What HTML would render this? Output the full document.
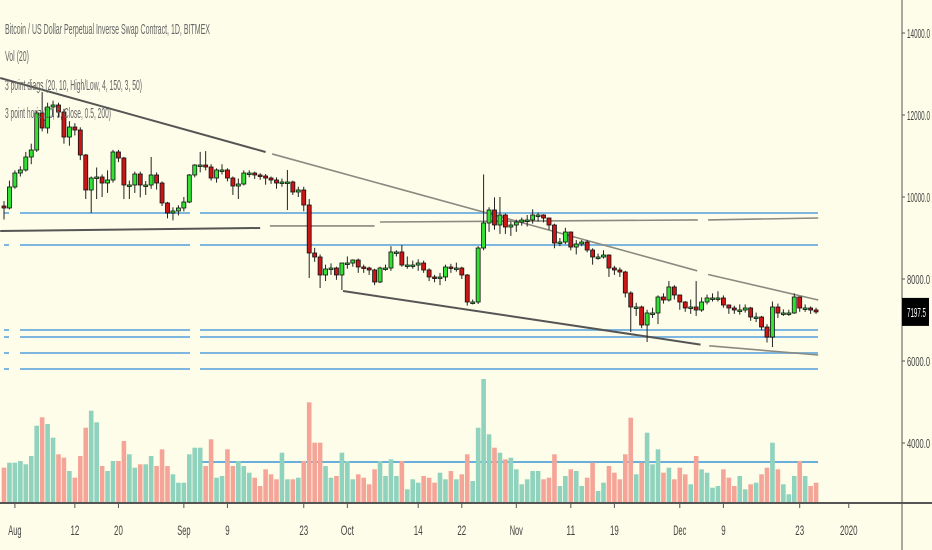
<!DOCTYPE html>
<html><head><meta charset="utf-8"><style>
html,body{margin:0;padding:0;background:#fdfde9;}
svg{display:block;}
</style></head><body>
<svg id="chart" width="932" height="550" viewBox="0 0 932 550" xmlns="http://www.w3.org/2000/svg">
<rect x="0" y="0" width="932" height="550" fill="#fdfde9"/>
<g id="hlines"></g>
<g id="diags"></g>
<g id="vol"></g>
<g id="candles"></g>
<g id="axes"></g>
<g font-family="'Liberation Sans Narrow','Liberation Sans',sans-serif" font-size="15" fill="#666">
<text x="5" y="34" textLength="205" lengthAdjust="spacingAndGlyphs">Bitcoin / US Dollar Perpetual Inverse Swap Contract, 1D, BITMEX</text>
<text x="5" y="61" textLength="24" lengthAdjust="spacingAndGlyphs">Vol (20)</text>
<text x="5" y="90" textLength="137" lengthAdjust="spacingAndGlyphs">3 point diags (20, 10, High/Low, 4, 150, 3, 50)</text>
<text x="5" y="118" textLength="106" lengthAdjust="spacingAndGlyphs">3 point horiz (10, 5, Close, 0.5, 200)</text>
</g>
</svg>
<script>
const closes=[9732,10244,10585,10659,10976,11146,12049,11683,12195,12244,12073,11463,11707,11634,11024,10171,10463,10488,10341,10415,11098,10951,10293,10293,10561,10293,10293,10537,10341,9854,9610,9659,9732,9878,10537,10780,10780,10732,10463,10659,10659,10463,10268,10317,10585,10585,10537,10512,10463,10415,10341,10366,10366,10122,10171,9805,8634,8537,8098,8244,8268,8098,8390,8390,8463,8293,8268,8220,7927,8268,8268,8659,8659,8341,8341,8341,8390,8220,8049,8024,8049,8293,8268,8268,8098,7439,7439,8756,9366,9683,9317,9561,9268,9317,9390,9439,9439,9561,9561,9488,9317,8878,8902,9146,8780,8854,8902,8707,8537,8537,8585,8268,8220,8171,7659,7317,7317,6878,7171,7171,7561,7488,7805,7610,7439,7293,7317,7244,7439,7537,7537,7537,7366,7293,7244,7244,7293,7073,7073,6829,6585,7317,7171,7171,7171,7561,7293,7293,7244,7197];
const firstOpen=9780;
const highs=[9900,10400,10650,10750,11100,11300,12100,12560,12300,12350,12300,12150,11850,11800,11700,11050,10500,10720,10550,10650,11150,11150,10980,10400,10620,10620,10390,10976,10600,10380,9880,9750,9800,10000,10560,10800,11100,11120,10800,10700,10800,10700,10500,10450,10650,10650,10620,10580,10560,10500,10480,10450,10660,10400,10250,10250,9950,8760,8600,8350,8380,8300,8400,8550,8480,8500,8350,8300,8250,8300,8350,8800,8700,8830,8550,8450,8480,8450,8260,8100,8150,8350,8370,8400,8300,8120,7500,8800,10550,9750,9990,10000,9600,9400,9450,9500,9560,9700,9620,9580,9500,9350,9000,9250,9160,8950,8950,8950,8750,8620,8700,8600,8320,8280,8200,7700,7420,7350,7250,7300,7600,7650,7950,7850,7620,7460,7500,7950,7550,7620,7650,7700,7600,7380,7350,7380,7380,7320,7180,7100,6900,7450,7400,7260,7250,7650,7560,7380,7330,7300];
const lows=[9450,9700,10200,10500,10620,10800,11100,11600,11550,11950,11950,11300,11250,11500,10900,9950,9610,9950,10000,10100,10350,10850,9950,9950,10100,9990,10050,10200,10180,9780,9480,9430,9550,9650,9850,10480,10600,10650,10400,10350,10550,10380,10050,9950,10280,10480,10440,10420,10300,10320,10200,10250,9683,10050,10000,9650,8024,8420,7780,7950,8100,7980,7730,8250,8300,8150,8150,8100,7850,7900,8200,8200,8550,8300,8250,8250,8200,8150,7950,7920,7850,7950,8150,8180,8000,7350,7380,7390,8700,9150,9200,9100,9100,9050,9150,9300,9280,9350,9400,9380,9200,8750,8800,8850,8700,8600,8800,8650,8350,8470,8500,8050,8100,8050,7550,6707,7100,6800,6463,7050,6900,7400,7450,7500,7250,7200,7150,7100,7200,7380,7450,7450,7300,7150,7150,7130,7180,6980,6950,6750,6450,6340,7050,7100,7100,7150,7200,7200,7150,7150];
const volumes=[343,393,393,410,377,460,763,847,780,643,477,443,310,243,460,743,913,797,360,310,410,410,610,477,343,377,377,460,360,527,360,277,193,193,477,543,543,360,627,243,260,527,360,410,360,293,243,160,327,277,227,493,227,227,243,410,997,593,593,360,243,260,493,410,227,277,243,177,327,410,260,427,260,410,127,227,193,260,243,193,293,227,310,227,277,477,210,743,1230,677,543,493,427,443,327,177,227,310,310,227,243,477,160,260,327,310,160,243,393,110,193,360,293,227,477,843,277,393,693,377,527,293,343,227,343,277,177,460,327,293,143,160,327,243,160,260,127,177,193,277,343,593,327,177,77,260,410,260,160,193];
const priceTicks=[14000,12000,10000,8000,6000,4000];
const dateLabels=["Aug","12","20","Sep","9","23","Oct","14","22","Nov","11","19","Dec","9","23","2020"];
const dateIdx=[2,13,21,33,41,55,63,76,84,94,104,112,124,132,146,155];
const levelPrices=[9610,8829,6756,6585,6195,5805];
const volLevel=400;
const lastPrice=7197.5;
const topDiagA=[[-0.7,12902],[48,11098]];
const topDiagB=[[49.2,11050],[127.2,8200]];
const topDiagC=[[129.2,8110],[149.4,7488]];
const lowDiagA=[[62.2,7707],[127.8,6400]];
const lowDiagB=[[129.4,6370],[149.4,6146]];
const flatA=[[-0.7,9171],[47,9244]];
const flatB=[[48.8,9293],[68,9293]];
const flatC=[[69,9390],[127.3,9440]];
const flatD=[[129.2,9440],[149.4,9488]];

const NS="http://www.w3.org/2000/svg";
function X(i){return 4+i*5.45;}
function Y(p){return 279-(p-8000)*0.041;}
function V(v){return 502-v/10;}
function mk(tag,attrs,parent){const e=document.createElementNS(NS,tag);for(const k in attrs)e.setAttribute(k,attrs[k]);parent.appendChild(e);return e;}

const hl=document.getElementById('hlines');
levelPrices.forEach(p=>{
  const segs=[[4,9],[20,190],[200,818]];
  segs.forEach(s=>{
    const l=mk('line',{x1:s[0],x2:s[1],y1:Y(p),y2:Y(p),stroke:'#7db7df','stroke-width':2},hl);
    
    
  });
});
const vl=mk('line',{x1:200,x2:818,y1:V(volLevel),y2:V(volLevel),stroke:'#6aaedb','stroke-width':2},hl);



const dg=document.getElementById('diags');
function poly(pts,color,w,name){
  const e=mk('polyline',{points:pts.map(q=>X(q[0])+','+Y(q[1])).join(' '),fill:'none',stroke:color,'stroke-width':w},dg);
  
  
}
poly(topDiagA,'#555',2,'upper-trendline');
poly(topDiagB,'#8a8a80',1.6,'upper-trendline-extension');
poly(topDiagC,'#8a8a80',1.6,'upper-trendline-extension-right');
poly(lowDiagA,'#555',2,'lower-trendline');
poly(lowDiagB,'#8a8a80',1.6,'lower-trendline-extension');
poly(flatA,'#555',2,'horizontal-trendline');
poly(flatB,'#8a8a80',1.6,'horizontal-trendline-mid');
poly(flatC,'#8a8a80',1.6,'horizontal-trendline-right');
poly(flatD,'#8a8a80',1.6,'horizontal-trendline-far-right');

const vg=document.getElementById('vol');
const cg=document.getElementById('candles');
closes.forEach((c,i)=>{
  const o=i===0?firstOpen:closes[i-1];
  const up=c>=o;
  const x=X(i);
  const vb=mk('rect',{x:x-2.3,y:V(volumes[i]),width:4.6,height:502-V(volumes[i]),fill:up?'#8fd2bd':'#f4a597'},vg);
  
  
  const w=mk('line',{x1:x,x2:x,y1:Y(highs[i]),y2:Y(lows[i]),stroke:'#222','stroke-width':1},cg);
  
  
  const top=Y(Math.max(o,c)),bot=Y(Math.min(o,c));
  const b=mk('rect',{x:x-2,y:top,width:4,height:Math.max(bot-top,1.5),fill:up?'#33e033':'#cc1616',stroke:'#111','stroke-width':0.8},cg);
  
  
});

const ax=document.getElementById('axes');
const a1=mk('line',{x1:902,x2:902,y1:0,y2:550,stroke:'#555','stroke-width':1},ax);


const a2=mk('line',{x1:0,x2:932,y1:503,y2:503,stroke:'#555','stroke-width':2},ax);


priceTicks.forEach(p=>{
  mk('line',{x1:902,x2:905,y1:Y(p),y2:Y(p),stroke:'#555'},ax);
  const t=mk('text',{x:907,y:Y(p)+5,'font-family':"'Liberation Sans Narrow','Liberation Sans',sans-serif",'font-size':13,fill:'#444',textLength:23,lengthAdjust:'spacingAndGlyphs'},ax);
  t.textContent=p.toFixed(1);
  
  
});
const pb=mk('rect',{x:902,y:Y(lastPrice)-14,width:27,height:28,fill:'#000'},ax);


const pt=mk('text',{x:907,y:Y(lastPrice)+5,'font-family':"'Liberation Sans Narrow','Liberation Sans',sans-serif",'font-size':13,fill:'#fff',textLength:19,lengthAdjust:'spacingAndGlyphs'},ax);
pt.textContent=lastPrice.toFixed(1);


dateLabels.forEach((d,k)=>{
  const x=X(dateIdx[k]);
  mk('line',{x1:x,x2:x,y1:503,y2:508,stroke:'#555'},ax);
  const t=mk('text',{x:x,y:535,'text-anchor':'middle','font-family':"'Liberation Sans Narrow','Liberation Sans',sans-serif",'font-size':14,fill:'#444',textLength:d.length*4.4,lengthAdjust:'spacingAndGlyphs'},ax);
  t.textContent=d;
  
  
});
</script>
</body></html>
